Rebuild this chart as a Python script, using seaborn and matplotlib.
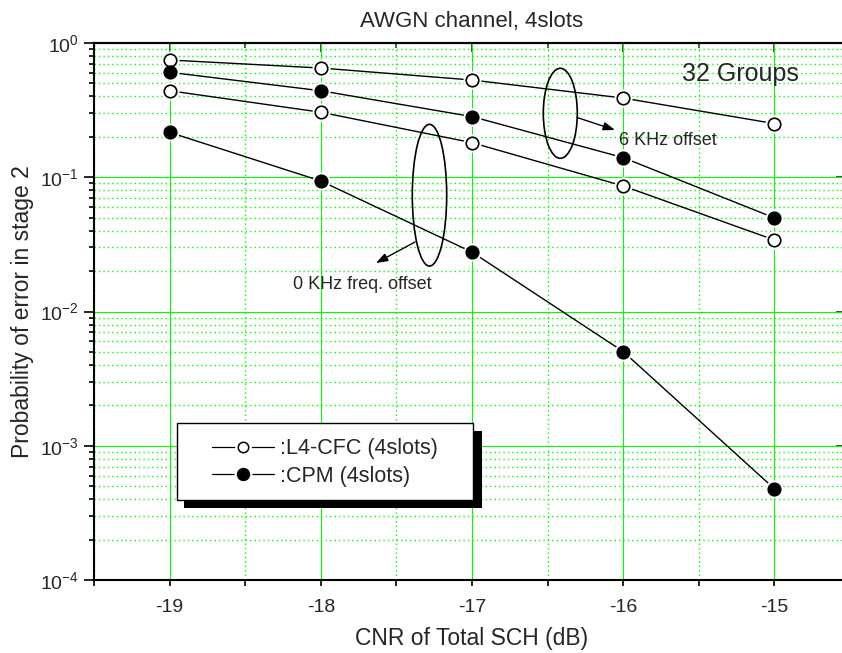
import matplotlib
matplotlib.use("Agg")
import matplotlib.pyplot as plt
import seaborn as sns
import pandas as pd
from matplotlib.patches import Ellipse, Rectangle
from matplotlib.lines import Line2D
from matplotlib.legend_handler import HandlerTuple
from matplotlib.ticker import MultipleLocator, LogLocator, NullFormatter, NullLocator

# ---- data -------------------------------------------------------------
cnr_db = [-19, -18, -17, -16, -15]
l4cfc_6khz = [0.747, 0.651, 0.530, 0.389, 0.251]
cpm_6khz = [0.605, 0.441, 0.283, 0.140, 0.0498]
l4cfc_0khz = [0.441, 0.305, 0.181, 0.0861, 0.0341]
cpm_0khz = [0.216, 0.0938, 0.0277, 0.00503, 0.000478]
legend_labels = [":L4-CFC (4slots)", ":CPM (4slots)"]

sns.set_style("white")
plt.rcParams["font.family"] = ["Liberation Sans", "DejaVu Sans"]
plt.rcParams["mathtext.fontset"] = "custom"
plt.rcParams["mathtext.rm"] = "Liberation Sans"
plt.rcParams["mathtext.default"] = "regular"
plt.rcParams["axes.unicode_minus"] = False

W, H = 842, 653
fig = plt.figure(figsize=(W / 100, H / 100), dpi=100)
AX_L, AX_R, AX_T, AX_B = 94, 850, 43, 580
ax = fig.add_axes([AX_L / W, 1 - AX_B / H, (AX_R - AX_L) / W, (AX_B - AX_T) / H])


def px(x, y):
    """pixel position -> axes fraction"""
    return (x - AX_L) / (AX_R - AX_L), (AX_B - y) / (AX_B - AX_T)


def fx(x, y):
    """pixel position -> figure fraction"""
    return x / W, 1 - y / H


series = [
    (l4cfc_6khz, "white"),
    (cpm_6khz, "black"),
    (l4cfc_0khz, "white"),
    (cpm_0khz, "black"),
]

for vals, face in series:
    df = pd.DataFrame({"cnr": cnr_db, "p": vals})
    sns.lineplot(data=df, x="cnr", y="p", ax=ax, color="black", lw=1.0, zorder=2)
    # white halo leaves a small gap between line and marker
    ax.plot(df["cnr"], df["p"], ls="none", marker="o", ms=12, mfc="white",
            mec="white", zorder=3)
    ax.plot(df["cnr"], df["p"], ls="none", marker="o", ms=9, mfc=face,
            mec="black", mew=1.2, zorder=4)

ax.set_yscale("log")
ax.set_xlim(-19.5, -14.5)
ax.set_ylim(1e-4, 1)
ax.set_xlabel("")
ax.set_ylabel("")

ax.xaxis.set_major_locator(MultipleLocator(1))
ax.xaxis.set_minor_locator(MultipleLocator(0.5))
ax.yaxis.set_major_locator(LogLocator(base=10, numticks=10))
ax.yaxis.set_minor_locator(LogLocator(base=10, subs=range(2, 10), numticks=20))
ax.yaxis.set_minor_formatter(NullFormatter())

ax.grid(which="major", color="#00ff00", lw=0.8, ls="-")
ax.grid(which="minor", color="#00ff00", lw=1.0, ls=(0, (1, 2.2)))
ax.set_axisbelow(True)

for side in ("left", "bottom", "top"):
    ax.spines[side].set_linewidth(1.5)
    ax.spines[side].set_color("black")
ax.spines["right"].set_visible(False)

ax.tick_params(axis="both", which="both", direction="out", color="black",
               width=1.2, labelsize=14, bottom=True, left=True, top=False, right=False)
ax.tick_params(axis="y", which="major", length=7, pad=4)
ax.tick_params(axis="y", which="minor", length=3.6)
ax.tick_params(axis="x", which="major", length=4.5, pad=9)
ax.tick_params(axis="x", which="minor", length=4.5)

# inward ticks along the top edge
top = ax.secondary_xaxis("top")
top.xaxis.set_major_locator(MultipleLocator(1))
top.xaxis.set_minor_locator(MultipleLocator(0.5))
top.tick_params(which="both", direction="in", labeltop=False, width=1.2)
top.tick_params(which="major", length=6.5)
top.tick_params(which="minor", length=3.5)
top.spines["top"].set_linewidth(1.5)

# inward ticks along the right edge
right = ax.secondary_yaxis("right")
right.yaxis.set_major_locator(LogLocator(base=10, numticks=10))
right.yaxis.set_minor_locator(NullLocator())
right.tick_params(which="both", direction="in", labelright=False, width=1.2, length=10)

# ---- labels ---------------------------------------------------------------
ax.set_title("AWGN channel, 4slots", fontsize=16, pad=11.7)
fig.text(*fx((AX_L + AX_R) / 2, 645), "CNR of Total SCH (dB)", fontsize=16.5,
         ha="center", va="baseline")
fig.text(*fx(23, (AX_T + AX_B) / 2), "Probability of error in stage 2",
         fontsize=16.5, rotation=90, ha="center", va="center")

# ---- annotations ---------------------------------------------------------
ax.text(*px(682, 81), "32 Groups", transform=ax.transAxes, fontsize=18,
        va="baseline", ha="left")
ax.text(*px(619, 145), "6 KHz offset", transform=ax.transAxes, fontsize=13,
        va="baseline", ha="left")
ax.text(*px(293, 289), "0 KHz freq. offset", transform=ax.transAxes, fontsize=13,
        va="baseline", ha="left")

for cx, cy, w, h in [(560.3, 113.3, 34, 90), (429.5, 195.2, 34.4, 141.7)]:
    ax.add_patch(Ellipse(px(cx, cy), w / (AX_R - AX_L), h / (AX_B - AX_T),
                         transform=ax.transAxes, fill=False, ec="black",
                         lw=1.2, zorder=5))

arrow = dict(arrowstyle="-|>,head_length=0.7,head_width=0.25", color="black",
             lw=1.0, shrinkA=0, shrinkB=0)
ax.annotate("", xy=px(615, 130), xytext=px(577, 117.5), xycoords="axes fraction",
            textcoords="axes fraction", arrowprops=arrow, zorder=5)
ax.annotate("", xy=px(376, 263), xytext=px(415, 242), xycoords="axes fraction",
            textcoords="axes fraction", arrowprops=arrow, zorder=5)

# ---- legend with a solid drop shadow ---------------------------------------
bx0, by0, bx1, by1 = 177, 423, 473, 500
sx0, sy0, sx1, sy1 = 184, 431, 482, 508
fig_w = lambda a, b: (b - a) / W
fig_h = lambda a, b: (b - a) / H
ax.add_patch(Rectangle(fx(sx0, sy1), fig_w(sx0, sx1), fig_h(sy0, sy1),
                       transform=fig.transFigure, fc="black", ec="black",
                       lw=0, zorder=6, clip_on=False))
ax.add_patch(Rectangle(fx(bx0, by1), fig_w(bx0, bx1), fig_h(by0, by1),
                       transform=fig.transFigure, fc="white", ec="black",
                       lw=1.0, zorder=7, clip_on=False))


def legend_handle(face, ms):
    line = Line2D([], [], color="black", lw=0.9)
    halo = Line2D([], [], ls="none", marker="o", ms=ms + 3.5, mfc="white", mec="white")
    mark = Line2D([], [], ls="none", marker="o", ms=ms, mfc=face, mec="black", mew=1.1)
    return (line, halo, mark)


handles = [legend_handle("white", 7.5), legend_handle("black", 8.5)]
leg = ax.legend(handles, legend_labels, loc="center",
                bbox_to_anchor=px((bx0 + bx1) / 2, (by0 + by1) / 2 + 1),
                bbox_transform=ax.transAxes, frameon=False, fontsize=15.5,
                handlelength=2.85, handletextpad=0.3, labelspacing=0.3,
                borderpad=0.0,
                handler_map={tuple: HandlerTuple(ndivide=1, pad=0)})
leg.set_zorder(8)

fig.savefig("out.png", dpi=100)
